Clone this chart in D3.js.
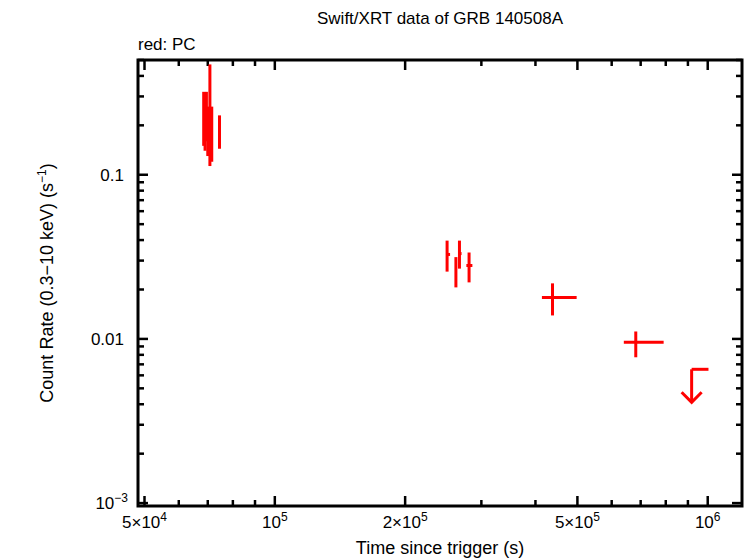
<!DOCTYPE html><html><head><meta charset="utf-8"><script src="https://cdn.jsdelivr.net/npm/d3@7"></script>
<style>body{margin:0;background:#fff}text{font-family:"Liberation Sans",Arial,sans-serif}</style></head><body>
<svg id="c" width="746" height="558"></svg>
<script>
// data: time, t_lo, t_hi, rate, r_lo, r_hi
const times=[6.85e4,6.9e4,6.95e4,7.0e4,7.08e4,7.15e4,7.45e4,2.50e5,2.62e5,2.67e5,2.81e5,4.38e5,6.82e5];
const tLo=[6.83e4,6.88e4,6.93e4,6.98e4,7.05e4,7.13e4,7.42e4,2.49e5,2.61e5,2.66e5,2.77e5,4.14e5,6.40e5];
const tHi=[6.87e4,6.92e4,6.97e4,7.02e4,7.11e4,7.17e4,7.48e4,2.54e5,2.63e5,2.70e5,2.86e5,4.98e5,7.91e5];
const rates=[0.22,0.2,0.24,0.18,0.25,0.2,0.216,0.0327,0.0264,0.0331,0.0280,0.0179,0.00953];
const rLo=[0.15,0.14,0.16,0.13,0.113,0.12,0.144,0.0257,0.0206,0.0268,0.0221,0.0139,0.00773];
const rHi=[0.32,0.3,0.32,0.26,0.47,0.26,0.23,0.0397,0.0315,0.0397,0.0336,0.0218,0.0111];
const ulT=[9.18e5], ulLo=[9.18e5], ulHi=[1.004e6], ulRate=[0.00653];
const xTicks=[5e4,1e5,2e5,5e5,1e6], xLabels=["5×10^4","10^5","2×10^5","5×10^5","10^6"];
const yTicks=[1e-3,0.01,0.1], yLabels=["10^−3","0.01","0.1"];
const svg=d3.select("#c");
const L=138,R=742,T=60,B=506;
const x=d3.scaleLog().domain([4.83e4,1.2e6]).range([L,R]);
const y=d3.scaleLog().domain([0.00096,0.5]).range([B,T]);
const red="#ff0000";
// minor ticks
const xm=[],ym=[];
for(let e=4;e<=6;e++)for(let m=1;m<10;m++){const v=m*Math.pow(10,e);if(v>=x.domain()[0]&&v<=x.domain()[1])xm.push(v);}
for(let e=-4;e<=0;e++)for(let m=1;m<10;m++){const v=m*Math.pow(10,e);if(v>=y.domain()[0]&&v<=y.domain()[1])ym.push(v);}
const g=svg.append("g").attr("stroke","#000").attr("stroke-width",2.5);
xm.forEach(v=>{const big=xTicks.includes(v)||v===1e5||v===1e6;const l=big?10:6;
 g.append("line").attr("x1",x(v)).attr("x2",x(v)).attr("y1",B).attr("y2",B-l);
 g.append("line").attr("x1",x(v)).attr("x2",x(v)).attr("y1",T).attr("y2",T+l);});
ym.forEach(v=>{const big=yTicks.some(t=>Math.abs(t-v)/v<1e-6);const l=big?10:6;
 g.append("line").attr("y1",y(v)).attr("y2",y(v)).attr("x1",L).attr("x2",L+l);
 g.append("line").attr("y1",y(v)).attr("y2",y(v)).attr("x1",R).attr("x2",R-l);});
svg.append("rect").attr("x",L).attr("y",T).attr("width",R-L).attr("height",B-T).attr("fill","none").attr("stroke","#000").attr("stroke-width",3);
function lab(sel,s){const p=s.split("^");sel.text(p[0]);if(p[1])sel.append("tspan").attr("dy",-7).attr("font-size",12).text(p[1]);}
xTicks.forEach((v,i)=>lab(svg.append("text").attr("x",x(v)).attr("y",528).attr("text-anchor","middle").attr("font-size",17),xLabels[i]));
yTicks.forEach((v,i)=>lab(svg.append("text").attr("x",i==0?128:124).attr("y",y(v)+6).attr("text-anchor","end").attr("font-size",17),yLabels[i]));
svg.append("text").attr("x",440).attr("y",554).attr("text-anchor","middle").attr("font-size",18).text("Time since trigger (s)");
const yl=svg.append("text").attr("transform","translate(53,283) rotate(-90)").attr("text-anchor","middle").attr("font-size",18).text("Count Rate (0.3−10 keV) (s");
yl.append("tspan").attr("dy",-7).attr("font-size",12).text("−1");yl.append("tspan").attr("dy",7).text(")");
svg.append("text").attr("x",440).attr("y",24).attr("text-anchor","middle").attr("font-size",17).text("Swift/XRT data of GRB 140508A");
svg.append("text").attr("x",138).attr("y",50).attr("font-size",17).text("red: PC");
const d=svg.append("g").attr("stroke",red).attr("stroke-width",3).attr("fill","none");
times.forEach((t,i)=>{
 d.append("line").attr("x1",x(t)).attr("x2",x(t)).attr("y1",y(rLo[i])).attr("y2",y(rHi[i]));
 d.append("line").attr("x1",x(tLo[i])).attr("x2",x(tHi[i])).attr("y1",y(rates[i])).attr("y2",y(rates[i]));});
ulT.forEach((t,i)=>{const yy=y(ulRate[i]),ya=yy+33;
 d.append("line").attr("x1",x(ulLo[i])).attr("x2",x(ulHi[i])).attr("y1",yy).attr("y2",yy);
 d.append("line").attr("x1",x(t)).attr("x2",x(t)).attr("y1",yy).attr("y2",ya);
 d.append("path").attr("d",`M${x(t)-10},${ya-10}L${x(t)},${ya}L${x(t)+10},${ya-10}`);});
</script></body></html>
